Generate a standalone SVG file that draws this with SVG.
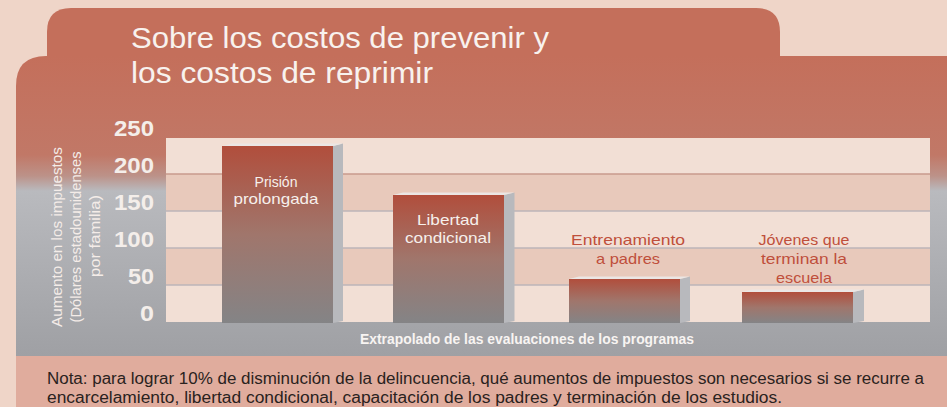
<svg xmlns="http://www.w3.org/2000/svg" width="947" height="407" viewBox="0 0 947 407">
<defs>
<linearGradient id="panelG" x1="0" y1="56" x2="0" y2="356" gradientUnits="userSpaceOnUse">
<stop offset="0" stop-color="#c46f5b"/>
<stop offset="0.33" stop-color="#c17867"/>
<stop offset="0.40" stop-color="#bc9289"/>
<stop offset="0.45" stop-color="#b9babe"/>
<stop offset="1" stop-color="#9fa0a4"/>
</linearGradient>
<linearGradient id="barG" x1="0" y1="0" x2="0" y2="1">
<stop offset="0" stop-color="#b14e3c"/>
<stop offset="0.5" stop-color="#a0766c"/>
<stop offset="1" stop-color="#848486"/>
</linearGradient>
<style>
.tick{font-family:"Liberation Sans","DejaVu Sans",sans-serif;font-weight:bold;font-size:22px;fill:#f4eeea;text-anchor:end}
.lblw{font-family:"Liberation Sans","DejaVu Sans",sans-serif;font-size:15px;fill:#f6f0ec;text-anchor:middle}
.lblr{font-family:"Liberation Sans","DejaVu Sans",sans-serif;font-size:15px;fill:#bf4f3b;text-anchor:middle}
.yt{font-family:"Liberation Sans","DejaVu Sans",sans-serif;font-size:15px;fill:#f4ece8;text-anchor:middle}
.side{fill:#b8b9bd}
.front{fill:url(#barG)}
.hl{fill:#ebe6e4}
</style>
</defs>
<rect x="0" y="0" width="947" height="407" fill="#efd5c8"/>
<g id="panel">
<path d="M47,56 L47,32 Q47,8 71,8 L756,8 Q780,8 780,32 L780,56 Z" fill="#c46f5b"/>
<path d="M16,356 L16,86 Q16,56 46,56 L947,56 L947,356 Z" fill="url(#panelG)"/>
<rect x="16" y="356" width="931" height="51" fill="#e0ac9d"/>
</g>
<g id="title" font-family="'Liberation Sans','DejaVu Sans',sans-serif" font-size="30" fill="#f8f2ee">
<text x="131" y="48" textLength="418" lengthAdjust="spacingAndGlyphs">Sobre los costos de prevenir y</text>
<text x="131" y="83" textLength="302" lengthAdjust="spacingAndGlyphs">los costos de reprimir</text>
</g>
<g id="plot">
<rect x="166" y="138" width="764" height="36" fill="#f2dfd5"/>
<rect x="166" y="174" width="764" height="37" fill="#e8c9bb"/>
<rect x="166" y="211" width="764" height="37" fill="#f2dfd5"/>
<rect x="166" y="248" width="764" height="37" fill="#e8c9bb"/>
<rect x="166" y="285" width="764" height="37" fill="#f2dfd5"/>
<line x1="166" y1="174" x2="930" y2="174" stroke="#c99a8c" stroke-width="1.5"/>
<line x1="166" y1="211" x2="930" y2="211" stroke="#bdb5b8" stroke-width="1.5"/>
<line x1="166" y1="248" x2="930" y2="248" stroke="#bdb5b8" stroke-width="1.5"/>
<line x1="166" y1="285" x2="930" y2="285" stroke="#bdb5b8" stroke-width="1.5"/>
</g>
<g id="yaxis">
<text class="tick" x="154" y="136" textLength="40" lengthAdjust="spacingAndGlyphs">250</text>
<text class="tick" x="154" y="173" textLength="40" lengthAdjust="spacingAndGlyphs">200</text>
<text class="tick" x="154" y="210" textLength="40" lengthAdjust="spacingAndGlyphs">150</text>
<text class="tick" x="154" y="247" textLength="40" lengthAdjust="spacingAndGlyphs">100</text>
<text class="tick" x="154" y="284" textLength="26" lengthAdjust="spacingAndGlyphs">50</text>
<text class="tick" x="154" y="321" textLength="14" lengthAdjust="spacingAndGlyphs">0</text>
<text class="yt" transform="translate(62,237) rotate(-90)" textLength="180" lengthAdjust="spacingAndGlyphs">Aumento en los impuestos</text>
<text class="yt" transform="translate(81,237) rotate(-90)" textLength="171" lengthAdjust="spacingAndGlyphs">(Dólares estadounidenses</text>
<text class="yt" transform="translate(100,236) rotate(-90)" textLength="82" lengthAdjust="spacingAndGlyphs">por familia)</text>
</g>
<g id="bar-prision">
<polygon class="side" points="333,146 343,143.5 343,321 333,323"/>
<rect class="front" x="222" y="146" width="111" height="177"/>
<polygon class="hl" points="222,146 333,146 343,143.5 232,143.5"/>
<text class="lblw" x="276" y="187" textLength="43" lengthAdjust="spacingAndGlyphs">Prisión</text>
<text class="lblw" x="276" y="204" textLength="85" lengthAdjust="spacingAndGlyphs">prolongada</text>
</g>
<g id="bar-libertad">
<polygon class="side" points="504,195 514.5,192.5 514.5,321 504,323"/>
<rect class="front" x="393" y="195" width="111" height="128"/>
<polygon class="hl" points="393,195 504,195 514.5,192.5 403,192.5"/>
<text class="lblw" x="448" y="225" textLength="62" lengthAdjust="spacingAndGlyphs">Libertad</text>
<text class="lblw" x="448" y="243" textLength="86" lengthAdjust="spacingAndGlyphs">condicional</text>
</g>
<g id="bar-entrenamiento">
<polygon class="side" points="680,279 690,276.5 690,321 680,323"/>
<rect class="front" x="569" y="279" width="111" height="44"/>
<polygon class="hl" points="569,279 680,279 690,276.5 579,276.5"/>
<text class="lblr" x="628" y="245" textLength="114" lengthAdjust="spacingAndGlyphs">Entrenamiento</text>
<text class="lblr" x="628" y="264" textLength="64" lengthAdjust="spacingAndGlyphs">a padres</text>
</g>
<g id="bar-jovenes">
<polygon class="side" points="853,292 864,289.5 864,321 853,323"/>
<rect class="front" x="742" y="292" width="111" height="31"/>
<polygon class="hl" points="742,292 853,292 864,289.5 752,289.5"/>
<text class="lblr" x="804" y="245" textLength="91" lengthAdjust="spacingAndGlyphs">Jóvenes que</text>
<text class="lblr" x="804" y="264" textLength="86" lengthAdjust="spacingAndGlyphs">terminan la</text>
<text class="lblr" x="804" y="283" textLength="56" lengthAdjust="spacingAndGlyphs">escuela</text>
</g>
<g id="xaxis">
<text x="527" y="344" font-family="'Liberation Sans','DejaVu Sans',sans-serif" font-weight="bold" font-size="14" fill="#f8f4f2" text-anchor="middle" textLength="334" lengthAdjust="spacingAndGlyphs">Extrapolado de las evaluaciones de los programas</text>
</g>
<g id="note" font-family="'Liberation Sans','DejaVu Sans',sans-serif" font-size="16" fill="#2a2220">
<text x="47" y="384" textLength="877" lengthAdjust="spacingAndGlyphs">Nota: para lograr 10% de disminución de la delincuencia, qué aumentos de impuestos son necesarios si se recurre a</text>
<text x="47" y="403" textLength="735" lengthAdjust="spacingAndGlyphs">encarcelamiento, libertad condicional, capacitación de los padres y terminación de los estudios.</text>
</g>
</svg>
